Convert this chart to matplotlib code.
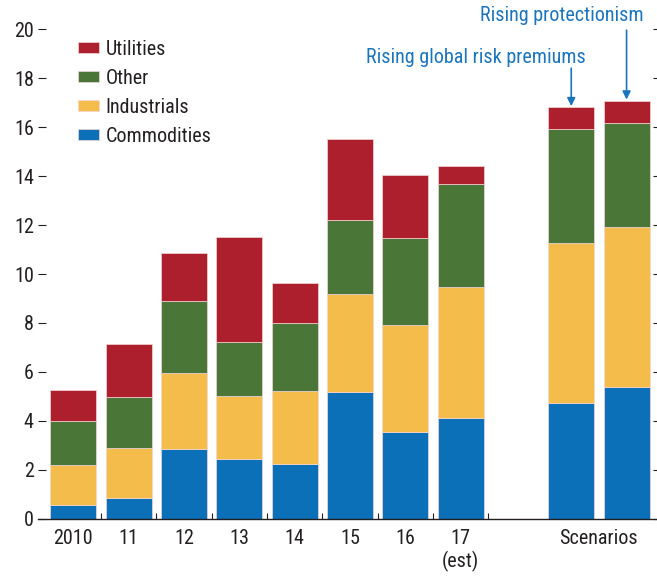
import numpy as np
import matplotlib.pyplot as plt

plt.rcParams['font.family'] = ['Roboto Condensed', 'Roboto', 'DejaVu Sans']

# stacked contributions
labels = ['2010', '11', '12', '13', '14', '15', '16', '17\n(est)', 'Scenarios']
positions = [0, 1, 2, 3, 4, 5, 6, 7, 9, 10]
commodities = [0.57, 0.86, 2.84, 2.45, 2.23, 5.18, 3.55, 4.14, 4.73, 5.37]
industrials = [1.63, 2.04, 3.12, 2.57, 2.99, 4.00, 4.37, 5.32, 6.54, 6.55]
other = [1.79, 2.08, 2.92, 2.20, 2.77, 3.02, 3.54, 4.20, 4.63, 4.26]
utilities = [1.26, 2.15, 1.96, 4.30, 1.63, 3.31, 2.57, 0.73, 0.90, 0.89]

series = [('Commodities', commodities, '#0b70b8'),
          ('Industrials', industrials, '#f4bc4b'),
          ('Other', other, '#4a7637'),
          ('Utilities', utilities, '#ad1f2c')]

dark = '#231f20'
blue_txt = '#1b75bc'
fs = 14.5

fig = plt.figure(figsize=(6.57, 5.78), dpi=100)
ax = fig.add_axes([0.0578, 0.1021, 0.9422, 0.8477])

bottom = np.zeros(len(positions))
handles = []
for name, vals, col in series:
    b = ax.bar(positions, vals, width=0.83, bottom=bottom, color=col,
               edgecolor='#f3d6d6', linewidth=0.5, label=name)
    handles.append(b)
    bottom += np.array(vals)

ax.set_xlim(-0.64, 10.55)
ax.set_ylim(0, 20)

for s in ['top', 'left', 'right']:
    ax.spines[s].set_visible(False)
ax.spines['bottom'].set_color(dark)
ax.spines['bottom'].set_linewidth(1.0)

ax.set_yticks(np.arange(0, 21, 2))
ax.tick_params(axis='y', which='major', direction='in', length=6, width=0.8,
               color=dark, labelcolor=dark, labelsize=fs, pad=3, right=True)

ax.set_xticks([0, 1, 2, 3, 4, 5, 6, 7, 9.5])
ax.set_xticklabels(labels)
ax.set_xticks(np.arange(0.5, 8, 1), minor=True)
ax.tick_params(axis='x', which='major', length=0, pad=7, labelsize=fs,
               labelcolor=dark)
ax.tick_params(axis='x', which='minor', direction='in', length=4.5,
               width=0.8, color=dark)

# right-side ticks shorter
for t in ax.yaxis.get_major_ticks():
    t.tick2line.set_markersize(3)

leg = ax.legend(handles=handles[::-1], loc='upper left',
                bbox_to_anchor=(0.052, 0.995), frameon=False, fontsize=fs,
                handlelength=1.05, handleheight=0.5, handletextpad=0.3,
                labelspacing=0.5, borderaxespad=0)
for txt in leg.get_texts():
    txt.set_color(dark)

# scenario annotations
ax.annotate('', xy=(9, 16.85), xytext=(9, 18.4),
            arrowprops=dict(arrowstyle='-|>', color=blue_txt, lw=1.2,
                            mutation_scale=12, shrinkA=0, shrinkB=0))
ax.annotate('', xy=(10, 17.12), xytext=(10, 19.95),
            arrowprops=dict(arrowstyle='-|>', color=blue_txt, lw=1.2,
                            mutation_scale=12, shrinkA=0, shrinkB=0))
ax.text(9.27, 18.82, 'Rising global risk premiums', ha='right', va='center',
        fontsize=fs, color=blue_txt, clip_on=False)
ax.text(10.3, 20.57, 'Rising protectionism', ha='right', va='center',
        fontsize=fs, color=blue_txt, clip_on=False)

fig.savefig('out.png', dpi=100)
